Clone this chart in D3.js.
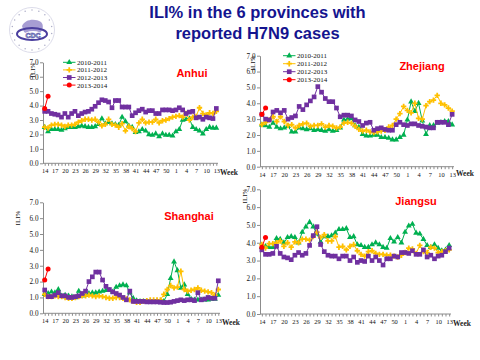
<!DOCTYPE html>
<html><head><meta charset="utf-8">
<script src="https://cdn.jsdelivr.net/npm/d3@7"></script>
<style>
html,body{margin:0;padding:0;background:#fff;}
svg{display:block;}
</style>
</head><body>
<svg id="chart" width="480" height="360"></svg>
<script>
// ---------- DATA ----------
const weeks = [14,15,16,17,18,19,20,21,22,23,24,25,26,27,28,29,30,31,32,33,34,35,36,37,38,39,40,41,42,43,44,45,46,47,48,49,50,51,52,1,2,3,4,5,6,7,8,9,10,11,12,13];
const tickWeeks = [14,17,20,23,26,29,32,35,38,41,44,47,50,1,4,7,10,13];
const yTicks = [0,1,2,3,4,5,6,7];
const seasons = ["2010-2011","2011-2012","2012-2013","2013-2014"];
const provinces = ["Anhui","Zhejiang","Shanghai","Jiangsu"];

const anhui_2010 = [2.5,2.2,2.35,2.35,2.35,2.3,2.4,2.5,2.5,2.5,2.55,2.6,2.55,2.5,2.5,2.55,2.7,3.1,2.75,2.85,2.75,2.7,2.65,3.2,2.9,2.6,2.5,2.15,2.2,2.35,2.25,2.0,1.95,2.05,1.85,2.05,1.95,1.95,1.9,2.2,2.35,3.0,3.05,3.1,2.5,2.35,2.25,2.05,2.35,2.5,2.45,2.45];
const anhui_2011 = [2.5,2.45,2.65,2.7,2.7,2.65,2.55,2.65,2.65,2.7,2.85,2.95,3.05,3.05,3.0,3.05,2.85,2.6,2.7,3.05,2.7,2.65,2.5,2.75,2.25,2.55,2.4,2.2,2.8,3.05,2.8,2.85,2.85,3.05,2.8,2.95,3.0,3.1,3.2,3.25,3.3,3.2,3.45,3.0,3.2,3.25,3.85,3.45,3.35,3.5,3.45,3.6];
const anhui_2012 = [3.6,3.6,3.45,3.4,3.35,3.2,3.45,3.2,3.45,3.6,3.3,3.45,3.55,3.6,3.75,3.95,4.2,4.4,4.35,4.25,3.85,4.35,4.35,3.9,3.9,3.9,3.3,3.5,3.65,3.75,3.55,3.65,3.65,3.45,3.45,3.7,3.7,3.7,3.65,3.7,3.85,3.7,3.45,3.55,3.6,3.15,3.2,3.05,3.2,3.15,3.1,3.8];
const anhui_2013 = [3.8,4.65];

const zhejiang_2010 = [2.65,2.6,2.5,2.75,2.5,2.4,2.45,2.55,2.2,2.2,2.45,2.4,2.35,2.4,2.3,2.35,2.3,2.25,2.35,2.25,2.3,2.45,2.95,3.0,3.05,2.6,2.5,2.05,1.95,1.95,2.0,2.0,1.85,1.85,1.8,1.7,1.7,1.85,2.0,2.95,4.1,3.5,4.0,2.9,2.05,2.6,2.6,2.75,2.8,2.85,2.85,2.65];
const zhejiang_2011 = [2.65,2.8,2.95,3.15,2.85,3.15,2.85,2.6,2.65,2.45,2.6,2.7,2.75,2.55,2.6,2.6,2.7,2.5,2.6,2.55,2.45,2.5,2.75,2.8,2.75,2.55,2.35,2.25,2.3,2.2,2.15,2.2,2.25,2.3,2.5,2.6,3.0,3.35,3.8,3.55,3.4,4.0,3.05,3.0,3.85,4.1,4.2,4.5,4.0,3.9,3.7,3.5];
const zhejiang_2012 = [3.3,3.0,2.95,3.45,3.55,3.4,3.55,3.0,3.1,3.2,3.8,3.6,3.9,4.15,4.4,5.05,4.7,4.3,4.1,4.1,3.7,3.15,3.25,3.25,3.2,2.95,2.85,2.6,2.75,2.8,2.3,2.4,2.45,2.35,2.3,2.3,2.65,2.8,2.65,2.6,2.7,2.7,2.6,2.55,2.5,2.45,2.45,2.8,2.8,2.8,2.65,3.3];
const zhejiang_2013 = [3.3,3.7];

const shanghai_2010 = [1.2,1.25,1.35,1.3,1.5,1.1,1.15,1.1,1.05,1.0,1.4,1.1,1.15,1.25,1.3,1.3,1.35,1.4,1.45,1.45,1.35,1.65,1.75,1.8,1.75,1.3,0.95,0.8,0.75,0.75,0.75,0.72,0.72,0.72,0.72,0.75,1.2,2.2,3.25,2.7,1.6,1.8,1.2,0.9,0.85,0.85,0.85,0.85,0.85,0.9,0.9,1.15];
const shanghai_2011 = [1.2,1.05,1.05,1.1,1.05,1.05,1.0,0.95,0.95,1.0,1.05,1.1,1.1,1.15,1.1,1.05,1.1,1.05,1.0,0.95,0.95,1.0,1.0,0.95,0.9,0.85,0.75,0.7,0.7,0.75,0.8,0.85,0.85,0.85,0.85,1.2,1.5,1.75,1.6,1.65,2.65,1.5,1.4,1.45,1.5,1.6,1.45,1.4,1.35,1.3,1.15,1.5];
const shanghai_2012 = [1.47,1.05,1.05,1.15,1.3,1.1,1.1,1.0,1.0,1.05,1.1,1.25,1.4,2.0,2.3,2.6,2.6,2.1,1.7,1.5,1.35,1.25,1.15,1.0,0.85,1.4,0.75,0.75,0.75,0.75,0.72,0.72,0.72,0.72,0.7,0.68,0.68,0.7,0.75,0.8,0.85,0.8,0.85,0.85,0.8,1.3,0.85,0.9,1.0,0.95,0.95,2.05];
const shanghai_2013 = [2.1,2.8];

const jiangsu_2010 = [3.75,3.8,3.75,3.75,4.25,4.2,4.0,4.3,4.35,4.3,4.0,4.6,4.9,5.15,4.9,4.5,4.05,4.35,4.35,4.4,4.55,4.75,4.75,4.8,4.3,4.35,3.9,3.85,3.75,3.75,3.9,4.0,3.9,3.75,3.7,4.25,4.05,4.3,4.0,4.6,4.95,5.05,4.55,4.5,4.2,3.85,3.75,3.9,3.7,3.55,3.6,3.85];
const jiangsu_2011 = [3.9,3.7,3.95,3.95,4.0,4.1,3.8,4.0,3.75,4.05,4.0,4.2,4.2,4.15,4.35,4.6,4.3,4.45,4.1,4.1,4.35,3.75,3.8,3.6,3.8,3.9,3.55,3.35,3.25,3.5,3.55,3.4,3.35,3.35,3.3,3.3,3.25,3.2,3.3,3.45,3.7,3.65,3.4,3.85,3.5,3.45,3.75,3.7,3.45,3.5,3.55,3.6];
const jiangsu_2012 = [3.6,3.35,3.35,3.4,3.8,3.4,3.2,3.15,3.05,3.3,3.45,3.3,3.4,3.85,4.4,4.9,3.9,3.5,3.3,3.25,3.25,3.1,3.25,3.25,3.0,3.2,2.9,3.0,2.95,3.25,3.0,3.2,3.0,2.75,3.1,3.1,3.25,3.2,3.45,3.45,3.4,3.55,3.35,3.35,3.6,3.2,3.3,3.1,3.25,3.3,3.5,3.7];
const jiangsu_2013 = [3.75,4.3];

// ---------- STYLE / LAYOUT ----------
const colors = ["#00B050","#FFC000","#7030A0","#FF0000"];
const markerTypes = [d3.symbolTriangle, d3.symbolCross, d3.symbolSquare, d3.symbolCircle];
const markerSizes = [15, 16, 22, 20];

const panels = [
  {name: provinces[0], series:[anhui_2010,anhui_2011,anhui_2012,anhui_2013],
   ax:43, xEnd:218, yTop:62.3, yBot:163.3, label:[192,77], ili:[35,70], week:[220,175],
   legend:{x:63, y:62.3, dy:7.6}},
  {name: provinces[1], series:[zhejiang_2010,zhejiang_2011,zhejiang_2012,zhejiang_2013],
   ax:260, xEnd:454, yTop:55.7, yBot:166.7, label:[422,70], ili:[255,63], week:[456,176],
   legend:{x:283, y:55.7, dy:8}},
  {name: provinces[2], series:[shanghai_2010,shanghai_2011,shanghai_2012,shanghai_2013],
   ax:43, xEnd:220, yTop:202.3, yBot:313.3, label:[189,220], ili:[20,218], week:[222,325],
   legend:null},
  {name: provinces[3], series:[jiangsu_2010,jiangsu_2011,jiangsu_2012,jiangsu_2013],
   ax:260, xEnd:451, yTop:189.3, yBot:314, label:[416,205], ili:[247,196], week:[453,326],
   legend:null}
];

const svg = d3.select("#chart");

// ---------- TITLE ----------
svg.append("text").attr("x",257.5).attr("y",18.3).attr("text-anchor","middle")
  .attr("font-family","Liberation Sans, Arial, sans-serif").attr("font-weight","bold")
  .attr("font-size",16.5).attr("fill","#14148f").text("ILI% in the 6 provinces with");
svg.append("text").attr("x",257.5).attr("y",38.5).attr("text-anchor","middle")
  .attr("font-family","Liberation Sans, Arial, sans-serif").attr("font-weight","bold")
  .attr("font-size",16.5).attr("fill","#14148f").text("reported H7N9 cases");

// ---------- LOGO ----------
const logo = svg.append("g").attr("transform","translate(32,30)");
logo.append("circle").attr("r",22.5).attr("fill","none").attr("stroke","#dcdcea").attr("stroke-width",1);
d3.range(0, 360, 20).forEach(a => {
  const r = (a-90) * Math.PI/180;
  logo.append("circle").attr("cx",20*Math.cos(r)).attr("cy",20*Math.sin(r)).attr("r",0.7).attr("fill","#a8a8c4");
});
logo.append("path").attr("d","M-10,-4 C-7,-11 3,-12 9,-8 C12,-5 11,0 8,3 C4,5 -4,5 -8,2 Z")
  .attr("fill","#8a7cc4").attr("opacity",0.75);
logo.append("ellipse").attr("cx",0).attr("cy",4).attr("rx",15).attr("ry",6)
  .attr("fill","none").attr("stroke","#4a3e9e").attr("stroke-width",2);
logo.append("ellipse").attr("cx",1).attr("cy",5).attr("rx",9).attr("ry",4).attr("fill","#fff");
logo.append("text").attr("x",1).attr("y",7.5).attr("text-anchor","middle")
  .attr("font-family","Liberation Sans, Arial, sans-serif").attr("font-weight","bold")
  .attr("font-size",7).attr("fill","#fff").attr("stroke","#3e3ea0").attr("stroke-width",0.6).text("CDC");

// ---------- PANELS ----------
panels.forEach(p => {
  const g = svg.append("g");
  const x = d3.scalePoint().domain(weeks).range([p.ax, p.xEnd]).padding(0.5);
  const y = d3.scaleLinear().domain([0,7]).range([p.yBot, p.yTop]);

  const ya = g.append("g").attr("transform",`translate(${p.ax},0)`)
    .call(d3.axisLeft(y).tickValues(yTicks).tickFormat(d3.format(".1f")).tickSize(3).tickSizeOuter(0).tickPadding(1.5));
  const xa = g.append("g").attr("transform",`translate(0,${p.yBot})`)
    .call(d3.axisBottom(x).tickValues(weeks).tickSize(2.5).tickSizeOuter(0).tickPadding(3)
      .tickFormat(d => tickWeeks.includes(d) ? d : ""));
  [ya, xa].forEach(a => {
    a.select(".domain").attr("stroke","#8c8c8c").attr("stroke-width",1);
    a.selectAll(".tick line").attr("stroke","#8c8c8c");
    a.selectAll("text").attr("font-family","Liberation Serif, Times New Roman, serif")
      .attr("font-size",7.2).attr("fill","#111");
  });
  xa.selectAll("text").attr("font-size",6.4);
  xa.select(".domain").attr("d", `M${p.ax},0H${p.xEnd}`);

  p.series.forEach((vals, si) => {
    const pts = vals.map((v,i) => [x(weeks[i]), y(v)]);
    g.append("path").attr("d", d3.line()(pts)).attr("fill","none")
      .attr("stroke", colors[si]).attr("stroke-width",1);
    const sym = d3.symbol().type(markerTypes[si]).size(markerSizes[si]);
    g.selectAll(null).data(pts).enter().append("path")
      .attr("d", sym).attr("transform", d => `translate(${d[0]},${d[1]})`)
      .attr("fill", colors[si]);
  });

  g.append("text").attr("x",p.label[0]).attr("y",p.label[1]).attr("text-anchor","middle")
    .attr("font-family","Liberation Sans, Arial, sans-serif").attr("font-weight","bold")
    .attr("font-size",11).attr("fill","#ff0000").text(p.name);

  g.append("text").attr("transform",`translate(${p.ili[0]},${p.ili[1]}) rotate(-90)`)
    .attr("text-anchor","middle").attr("font-family","Liberation Serif, Times New Roman, serif")
    .attr("font-size",7).attr("fill","#111").text("ILI%");

  g.append("text").attr("x",p.week[0]).attr("y",p.week[1])
    .attr("font-family","Liberation Serif, Times New Roman, serif").attr("font-weight","bold")
    .attr("font-size",7.5).attr("fill","#222").text("Week");

  if (p.legend) {
    seasons.forEach((s, si) => {
      const ly = p.legend.y + si*p.legend.dy;
      g.append("line").attr("x1",p.legend.x).attr("x2",p.legend.x+12.5)
        .attr("y1",ly).attr("y2",ly).attr("stroke",colors[si]).attr("stroke-width",1);
      g.append("path").attr("d", d3.symbol().type(markerTypes[si]).size(markerSizes[si])())
        .attr("transform",`translate(${p.legend.x+6.25},${ly})`).attr("fill",colors[si]);
      g.append("text").attr("x",p.legend.x+14).attr("y",ly+2.5)
        .attr("font-family","Liberation Serif, Times New Roman, serif")
        .attr("font-size",7).attr("fill","#111").text(s);
    });
  }
});
</script>
</body></html>
